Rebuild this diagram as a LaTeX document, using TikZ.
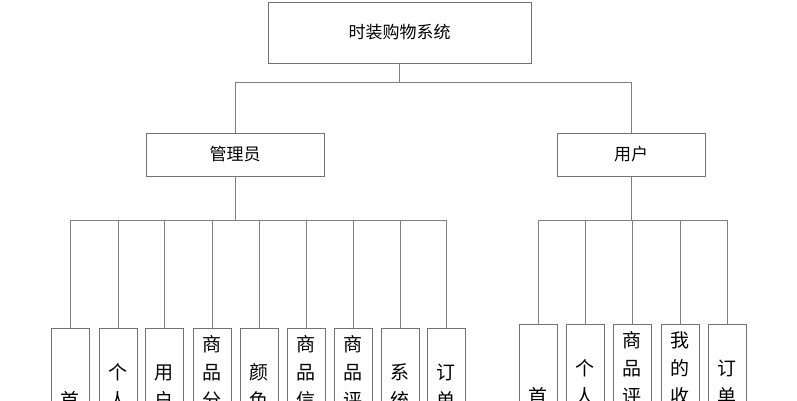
\documentclass[tikz,border=0pt]{standalone}
\usepackage{fontspec}
\setmainfont{Noto Sans CJK SC}
\begin{document}
\begin{tikzpicture}[x=1pt,y=-1pt,
  box/.style={draw=black!55,line width=0.8pt,fill=white,inner sep=0pt,font=\fontsize{17}{20}\selectfont},
  leaf/.style={draw=black!55,line width=0.8pt,fill=white,inner sep=0pt,minimum width=38pt,minimum height=172pt,font=\fontsize{19}{28}\selectfont,align=center},
  ln/.style={draw=black!50,line width=0.8pt}]
\clip (0,0) rectangle (797,400);
\useasboundingbox (0,0) rectangle (797,400);
\node[box,minimum width=263pt,minimum height=61pt] (root) at (399.5,32.5) {时装购物系统};
\node[box,minimum width=178pt,minimum height=43pt] (adm) at (235,154.5) {管理员};
\node[box,minimum width=148pt,minimum height=43pt] (usr) at (631,154.5) {用户};
\coordinate (r1) at (399.5,82);
\draw[ln] (root.south) -- (r1);
\draw[ln] (adm.north) -- (235,82) -- (631,82) -- (usr.north);
\foreach \x/\t/\n in {70/首\\页/a1,118/个\\人\\中\\心/a2,164/用\\户\\管\\理/a3,212/商\\品\\分\\类\\管\\理/a4,259/颜\\色\\管\\理/a5,306/商\\品\\信\\息\\管\\理/a6,353/商\\品\\评\\价\\管\\理/a7,400/系\\统\\管\\理/a8,446/订\\单\\管\\理/a9}{
  \node[leaf,anchor=north] (\n) at (\x,328) {\t};
  \draw[ln] (\n.north) -- (\x,220);
}
\draw[ln] (adm.south) -- (235,220);
\draw[ln] (70,220) -- (446,220);
\foreach \x/\t/\n in {538/首\\页/u1,585/个\\人\\中\\心/u2,632/商\\品\\评\\价\\管\\理/u3,680/我\\的\\收\\藏\\管\\理/u4,727/订\\单\\管\\理/u5}{
  \node[leaf,anchor=north] (\n) at (\x,324) {\t};
  \draw[ln] (\n.north) -- (\x,220);
}
\draw[ln] (usr.south) -- (631,220);
\draw[ln] (538,220) -- (727,220);
\end{tikzpicture}
\end{document}
